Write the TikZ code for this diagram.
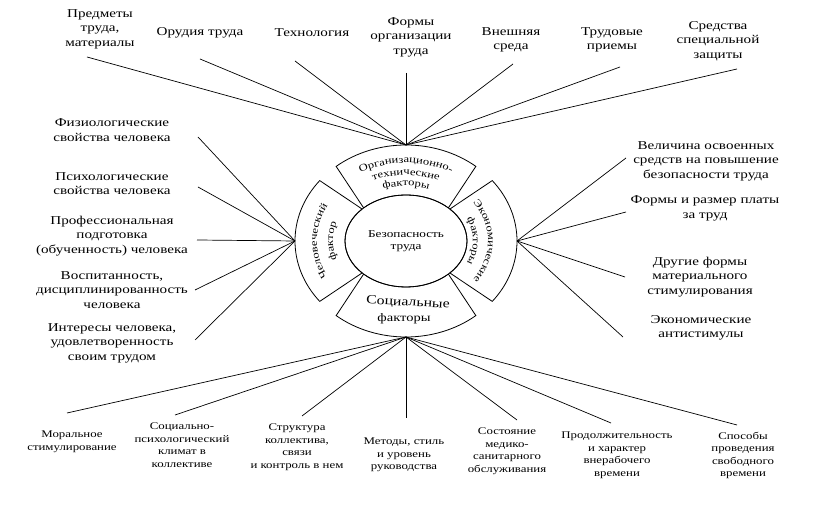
\documentclass[tikz,border=0pt]{standalone}
\usepackage{fontspec}
\setmainfont{Liberation Serif}[FakeStretch=1.26]
\usetikzlibrary{decorations.text,shapes.geometric}
\newcommand\segf{\fontsize{10}{10}\selectfont}
\begin{document}
\begin{tikzpicture}[x=1pt,y=1pt,
  lbl/.style={align=center,font=\fontsize{12}{14.5}\selectfont,inner sep=0pt},
  lblb/.style={align=center,font=\fontsize{10.2}{12.5}\selectfont,inner sep=0pt},
  conn/.style={line width=0.7pt},
  seg/.style={line width=0.8pt},
  segtext/.style={decorate,decoration={text along path,text align=center,text={|\segf|#1}}}]
\useasboundingbox (0,0) rectangle (828,508);
\coordinate (C) at (406,267);
% ring segments
\draw[seg] ([shift={(C)}]51:111 and 96) arc[start angle=51,end angle=129,x radius=111,y radius=96]
  -- ([shift={(C)}]134:61 and 46) arc[start angle=134,end angle=46,x radius=61,y radius=46] -- cycle;
\draw[seg] ([shift={(C)}]141:111 and 96) arc[start angle=141,end angle=219,x radius=111,y radius=96]
  -- ([shift={(C)}]224:61 and 46) arc[start angle=224,end angle=136,x radius=61,y radius=46] -- cycle;
\draw[seg] ([shift={(C)}]231:111 and 96) arc[start angle=231,end angle=309,x radius=111,y radius=96]
  -- ([shift={(C)}]314:61 and 46) arc[start angle=314,end angle=226,x radius=61,y radius=46] -- cycle;
\draw[seg] ([shift={(C)}]-39:111 and 96) arc[start angle=-39,end angle=39,x radius=111,y radius=96]
  -- ([shift={(C)}]44:61 and 46) arc[start angle=44,end angle=-44,x radius=61,y radius=46] -- cycle;
% centre
\node[draw,ellipse,seg,minimum width=122pt,minimum height=92pt,inner sep=0pt,align=center,
  font=\fontsize{10.5}{12}\selectfont] (ctr) at (C) {Безопасность\\труда};
% segment texts
\path[segtext={Организационно-}] ([shift={(C)}]160:93 and 78) arc[start angle=160,end angle=20,x radius=93,y radius=78];
\path[segtext={технические}] ([shift={(C)}]160:81 and 66) arc[start angle=160,end angle=20,x radius=81,y radius=66];
\path[segtext={факторы}] ([shift={(C)}]160:70 and 55) arc[start angle=160,end angle=20,x radius=70,y radius=55];
\path[segtext={Человеческий}] ([shift={(C)}]240:89 and 74) arc[start angle=240,end angle=120,x radius=89,y radius=74];
\path[segtext={фактор}] ([shift={(C)}]240:73 and 58) arc[start angle=240,end angle=120,x radius=73,y radius=58];
\path[segtext={Экономические}] ([shift={(C)}]60:82 and 67) arc[start angle=60,end angle=-60,x radius=82,y radius=67];
\path[segtext={факторы}] ([shift={(C)}]60:67 and 52) arc[start angle=60,end angle=-60,x radius=67,y radius=52];
\node[font=\fontsize{12.5}{12.5}\selectfont,rotate=-3,inner sep=0pt] (s1) at (408,205) {Социальные};
\node[font=\fontsize{11.5}{11.5}\selectfont,inner sep=0pt] (s2) at (404,189) {факторы};
% hubs
\coordinate (hT) at (406,363);
\coordinate (hB) at (406,171);
\coordinate (hL) at (295,267);
\coordinate (hR) at (517,267);
% top labels
\node[lbl] (t1) at (100,479) {Предметы\\труда,\\материалы};
\node[lbl] (t2) at (200,475) {Орудия труда};
\node[lbl] (t3) at (312,475) {Технология};
\node[lbl] (t4) at (411,471) {Формы\\организации\\труда};
\node[lbl] (t5) at (511,468) {Внешняя\\среда};
\node[lbl] (t6) at (612,468) {Трудовые\\приемы};
\node[lbl] (t7) at (718,467) {Средства\\специальной\\защиты};
\coordinate (a1) at (87,451);
\coordinate (a2) at (200,449);
\coordinate (a3) at (295,447);
\coordinate (a4) at (406,435);
\coordinate (a5) at (513,444);
\coordinate (a6) at (620,441);
\coordinate (a7) at (737,439);
% left labels
\node[lbl] (l1) at (112,378) {Физиологические\\свойства человека};
\node[lbl] (l2) at (112,324.5) {Психологические\\свойства человека};
\node[lbl] (l3) at (112,272) {Профессиональная\\подготовка\\(обученность) человека};
\node[lbl] (l4) at (112,218) {Воспитанность,\\дисциплинированность\\человека};
\node[lbl] (l5) at (112,165) {Интересы человека,\\удовлетворенность\\своим трудом};
\coordinate (c1) at (198,371);
\coordinate (c2) at (198,321);
\coordinate (c3) at (197,268);
\coordinate (c4) at (195,218);
\coordinate (c5) at (195,168);
% right labels
\node[lbl] (r1) at (706,347) {Величина освоенных\\средств на повышение\\безопасности труда};
\node[lbl] (r2) at (705,299.5) {Формы и размер платы\\за труд};
\node[lbl] (r3) at (700,231) {Другие формы\\материального\\стимулирования};
\node[lbl] (r4) at (701,180) {Экономические\\антистимулы};
\coordinate (d1) at (626,350);
\coordinate (d2) at (626,296);
\coordinate (d3) at (625,231);
\coordinate (d4) at (623,171);
% bottom labels
\node[lblb] (b1) at (72,66) {Моральное\\стимулирование};
\node[lblb] (b2) at (182,63) {Социально-\\психологический\\климат в\\коллективе};
\node[lblb] (b3) at (297,61) {Структура\\коллектива,\\связи\\и контроль в нем};
\node[lblb] (b4) at (404,53) {Методы, стиль\\и уровень\\руководства};
\node[lblb] (b5) at (507,57) {Состояние\\медико-\\санитарного\\обслуживания};
\node[lblb] (b6) at (617,52.5) {Продолжительность\\и характер\\внерабочего\\времени};
\node[lblb] (b7) at (743,52.5) {Способы\\проведения\\свободного\\времени};
\coordinate (e1) at (67,95);
\coordinate (e2) at (175,93);
\coordinate (e3) at (302,92);
\coordinate (e4) at (406,90);
\coordinate (e5) at (517,88);
\coordinate (e6) at (611,85);
\coordinate (e7) at (737,83);
% connectors
\foreach \p in {a1,a2,a3,a4,a5,a6,a7} \draw[conn] (\p) -- (hT);
\foreach \p in {c1,c2,c3,c4,c5} \draw[conn] (\p) -- (hL);
\foreach \p in {d1,d2,d3,d4} \draw[conn] (\p) -- (hR);
\foreach \p in {e1,e2,e3,e4,e5,e6,e7} \draw[conn] (\p) -- (hB);
\end{tikzpicture}
\end{document}
